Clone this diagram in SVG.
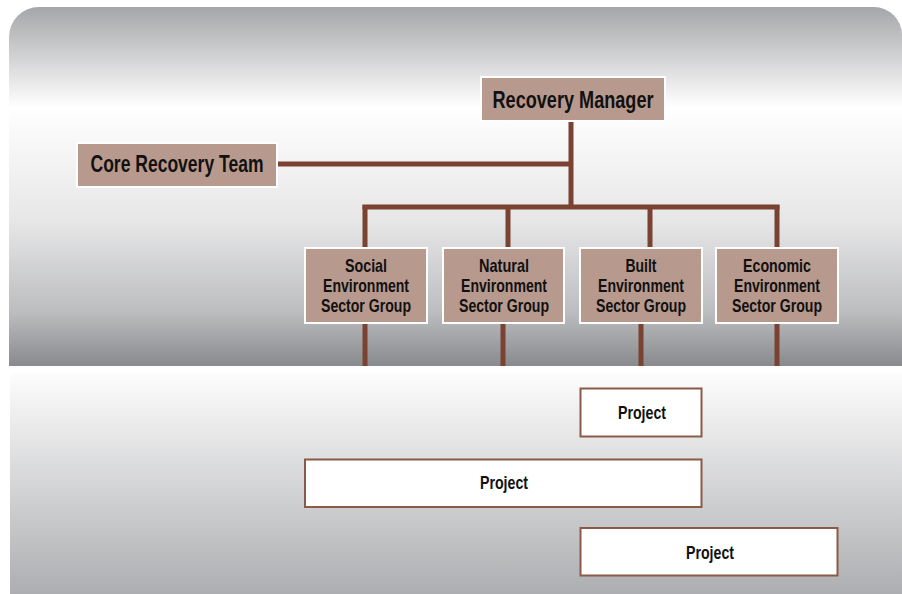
<svg xmlns="http://www.w3.org/2000/svg" width="902" height="594" viewBox="0 0 902 594">
  <defs>
    <linearGradient id="gTop" x1="0" y1="0" x2="0" y2="1">
      <stop offset="0" stop-color="#a5a6a9"/>
      <stop offset="0.28" stop-color="#ffffff"/>
      <stop offset="0.6" stop-color="#e6e6e7"/>
      <stop offset="0.85" stop-color="#bcbdbf"/>
      <stop offset="1" stop-color="#898a8d"/>
    </linearGradient>
    <linearGradient id="gBot" x1="0" y1="0" x2="0" y2="1">
      <stop offset="0" stop-color="#fdfdfd"/>
      <stop offset="1" stop-color="#adaeb1"/>
    </linearGradient>
    <style>
      .brown { fill: #b8998d; stroke: #ffffff; stroke-width: 2; }
      .proj { fill: #ffffff; stroke: #8a5a48; stroke-width: 2; }
      .conn { fill: none; stroke: #7a4231; stroke-width: 5; }
      text { font-family: "Liberation Sans Narrow", "Liberation Sans", Arial, sans-serif; font-weight: bold; fill: #111111; text-anchor: middle; }
      .big { font-size: 24px; }
      .mid { font-size: 19px; }
    </style>
  </defs>

  <rect width="902" height="594" fill="#ffffff"/>
  <path d="M9,366 V37 A30,30 0 0 1 39,7 H874 A28,28 0 0 1 902,35 V366 Z" fill="url(#gTop)"/>
  <rect x="10" y="373" width="892" height="221" fill="url(#gBot)"/>

  <g id="connectors">
    <path class="conn" d="M571,121 V207"/>
    <path class="conn" d="M277,164 H571"/>
    <path class="conn" d="M362.5,207 H779.5"/>
    <path class="conn" d="M365,205 V248 M508,205 V248 M650,205 V248 M777,205 V248"/>
    <path class="conn" d="M365,323 V366 M503,323 V366 M641,323 V366 M777,323 V366"/>
  </g>

  <g id="recovery-manager">
    <rect class="brown" x="481" y="77" width="184" height="44"/>
    <text class="big" x="573" y="108" textLength="161" lengthAdjust="spacingAndGlyphs">Recovery Manager</text>
  </g>

  <g id="core-recovery-team">
    <rect class="brown" x="77" y="143" width="200" height="44"/>
    <text class="big" x="177" y="172" textLength="173" lengthAdjust="spacingAndGlyphs">Core Recovery Team</text>
  </g>

  <g id="social">
    <rect class="brown" x="305" y="248" width="122" height="75"/>
    <text class="mid" x="366" y="272" textLength="42" lengthAdjust="spacingAndGlyphs">Social</text>
    <text class="mid" x="366" y="292" textLength="86" lengthAdjust="spacingAndGlyphs">Environment</text>
    <text class="mid" x="366" y="312" textLength="90" lengthAdjust="spacingAndGlyphs">Sector Group</text>
  </g>

  <g id="natural">
    <rect class="brown" x="443" y="248" width="121" height="75"/>
    <text class="mid" x="504" y="272" textLength="50" lengthAdjust="spacingAndGlyphs">Natural</text>
    <text class="mid" x="504" y="292" textLength="86" lengthAdjust="spacingAndGlyphs">Environment</text>
    <text class="mid" x="504" y="312" textLength="90" lengthAdjust="spacingAndGlyphs">Sector Group</text>
  </g>

  <g id="built">
    <rect class="brown" x="580" y="248" width="122" height="75"/>
    <text class="mid" x="641" y="272" textLength="31" lengthAdjust="spacingAndGlyphs">Built</text>
    <text class="mid" x="641" y="292" textLength="86" lengthAdjust="spacingAndGlyphs">Environment</text>
    <text class="mid" x="641" y="312" textLength="90" lengthAdjust="spacingAndGlyphs">Sector Group</text>
  </g>

  <g id="economic">
    <rect class="brown" x="716" y="248" width="122" height="75"/>
    <text class="mid" x="777" y="272" textLength="68" lengthAdjust="spacingAndGlyphs">Economic</text>
    <text class="mid" x="777" y="292" textLength="86" lengthAdjust="spacingAndGlyphs">Environment</text>
    <text class="mid" x="777" y="312" textLength="90" lengthAdjust="spacingAndGlyphs">Sector Group</text>
  </g>

  <g id="project-1">
    <rect class="proj" x="580.5" y="388.5" width="121" height="48"/>
    <text class="mid" x="642" y="419" textLength="48" lengthAdjust="spacingAndGlyphs">Project</text>
  </g>

  <g id="project-2">
    <rect class="proj" x="305" y="459.5" width="396.5" height="47.5"/>
    <text class="mid" x="504" y="489" textLength="48" lengthAdjust="spacingAndGlyphs">Project</text>
  </g>

  <g id="project-3">
    <rect class="proj" x="580.5" y="528" width="257" height="47.5"/>
    <text class="mid" x="710" y="559" textLength="48" lengthAdjust="spacingAndGlyphs">Project</text>
  </g>
</svg>
